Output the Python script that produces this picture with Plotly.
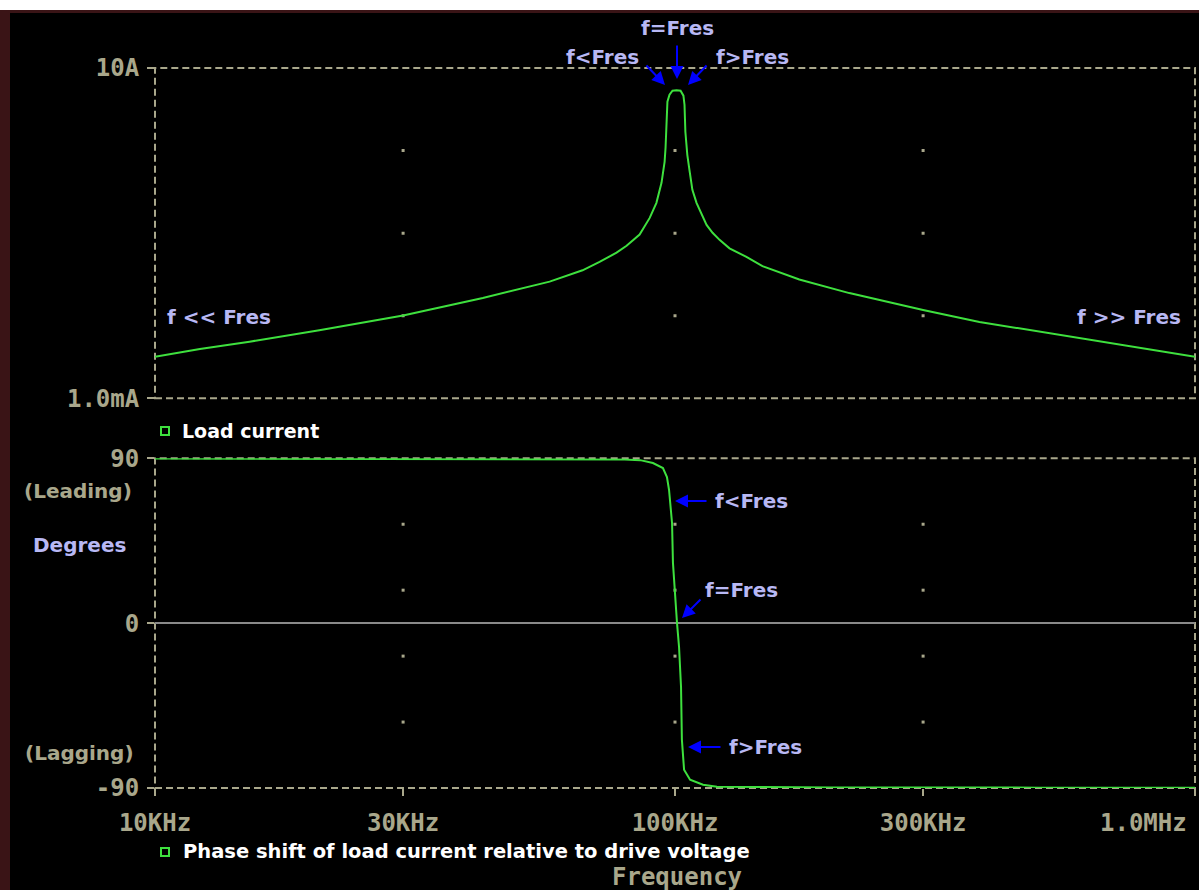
import itertools
import plotly.graph_objects as go

# ---------------- data ----------------
freq_current_khz = [10, 12.2, 15.2, 20.7, 30, 42.7, 57.4, 66.4, 71.6, 77.2,
                    80.7, 85.5, 89.4, 92.1, 94.2, 95.5, 95.9, 96.3, 96.7, 97.6,
                    98.9, 100.7, 102.5, 103.8, 104.3, 104.7, 105.6, 106.6, 108.0, 110.0,
                    112.2, 115.0, 118.1, 121.8, 127.3, 137.2, 147.3, 173.4, 216.4, 300,
                    385, 598, 1000]
current_a = [3.19e-3, 3.96e-3, 4.85e-3, 6.65e-3, 1.008e-2, 1.64e-2, 2.59e-2, 3.55e-2, 4.49e-2, 5.80e-2,
             7.03e-2, 9.6e-2, 0.153, 0.233, 0.407, 0.731, 1.08, 2.72, 3.91, 4.75,
             5.31, 5.38, 5.31, 4.62, 3.59, 1.69, 0.889, 0.585, 0.335, 0.233,
             0.176, 0.126, 0.101, 8.29e-2, 6.55e-2, 5.16e-2, 3.98e-2, 2.75e-2, 1.88e-2, 1.175e-2,
             8.41e-3, 5.38e-3, 3.19e-3]

freq_phase_khz = [10, 30, 50, 70, 80, 85.7, 90.7, 94.8, 96.5, 97.4,
                  98.7, 99.1, 100.0, 100.9, 101.8, 102.7, 103.1, 104.1, 106.9, 113.2,
                  120.4, 200, 500, 1000]
phase_deg = [89.9, 89.8, 89.7, 89.5, 89.3, 89.0, 87.4, 84.7, 79.8, 72.7,
             54.7, 32.9, 12.7, 0.0, -12.9, -34.7, -63.6, -80.0, -85.5, -88.2,
             -89.3, -89.7, -89.8, -89.9]

x_tickvals = [1e4, 3e4, 1e5, 3e5, 1e6]
x_ticktext = ["10KHz", "30KHz", "100KHz", "300KHz", "1.0MHz"]
y1_tickvals = [1e-3, 10]
y1_ticktext = ["1.0mA", "10A"]
y2_tickvals = [90, 0, -90]
y2_ticktext = ["90", "0", "-90"]
grid_x = [3e4, 1e5, 3e5]
grid_y_top = [1e-2, 1e-1, 1]
grid_y_bottom = [54, 18, -18, -54]

# ---------------- styling ----------------
W, H = 1199, 890
PL, PR, PT, PB = 155, 1195, 68, 788   # plot-area pixel bounds


def px(x):
    return (x - PL) / (PR - PL)


def py(y):
    return (PB - y) / (PB - PT)


GREEN = "#3ee03e"
TAN = "#a9a78b"
LAV = "#b8b8f4"
BLUE = "#0000ff"
MONO = "DejaVu Sans Mono"
SANS = "DejaVu Sans"
TICKFONT = dict(family=MONO, size=24, color=TAN, weight="bold")

fig = go.Figure()

# grid dots
gx1, gy1 = zip(*itertools.product(grid_x, grid_y_top))
gx2, gy2 = zip(*itertools.product(grid_x, grid_y_bottom))
fig.add_trace(go.Scatter(x=gx1, y=gy1, mode="markers", xaxis="x", yaxis="y",
                         marker=dict(size=3, color=TAN, symbol="square"), hoverinfo="skip"))
fig.add_trace(go.Scatter(x=gx2, y=gy2, mode="markers", xaxis="x2", yaxis="y2",
                         marker=dict(size=3, color=TAN, symbol="square"), hoverinfo="skip"))

fig.add_trace(go.Scatter(x=[f * 1e3 for f in freq_current_khz], y=current_a,
                         mode="lines", xaxis="x", yaxis="y", name="Load current",
                         line=dict(color=GREEN, width=2)))
fig.add_trace(go.Scatter(x=[f * 1e3 for f in freq_phase_khz], y=phase_deg,
                         mode="lines", xaxis="x2", yaxis="y2",
                         name="Phase shift of load current relative to drive voltage",
                         line=dict(color=GREEN, width=2)))

top_dom = [py(398.3), 1.0]
bot_dom = [0.0, py(458.3)]

# last x tick label is drawn right-aligned (as in the original), so blank it on the axis
ticktext_x = list(x_ticktext[:-1]) + [""]

fig.update_layout(
    width=W, height=H, autosize=False,
    margin=dict(l=PL, r=W - PR, t=PT, b=H - PB, autoexpand=False),
    paper_bgcolor="black", plot_bgcolor="black",
    showlegend=False,
    xaxis=dict(type="log", range=[4, 6], domain=[0, 1], anchor="y", automargin=False,
               showticklabels=False, showgrid=False, zeroline=False, showline=False, ticks=""),
    yaxis=dict(type="log", range=[-3, 1], domain=top_dom, anchor="x", automargin=False,
               tickvals=y1_tickvals, ticktext=y1_ticktext, tickfont=TICKFONT,
               ticks="outside", ticklen=7, tickwidth=2, tickcolor=TAN, ticklabelstandoff=3,
               showgrid=False, zeroline=False, showline=False),
    xaxis2=dict(type="log", range=[4, 6], domain=[0, 1], anchor="y2", automargin=False,
                tickvals=x_tickvals, ticktext=ticktext_x, tickfont=TICKFONT,
                ticks="outside", ticklen=7, tickwidth=2, tickcolor=TAN, ticklabelstandoff=6,
                showgrid=False, zeroline=False, showline=False),
    yaxis2=dict(range=[-90, 90], domain=bot_dom, anchor="x2", automargin=False,
                tickvals=y2_tickvals, ticktext=y2_ticktext, tickfont=TICKFONT,
                ticks="outside", ticklen=7, tickwidth=2, tickcolor=TAN, ticklabelstandoff=3,
                showgrid=False, zeroline=True, zerolinecolor="#8a8a8a", zerolinewidth=2,
                showline=False),
)

shapes = []
# dashed plot frames
for xr, yr in (("x domain", "y domain"), ("x2 domain", "y2 domain")):
    shapes.append(dict(type="rect", xref=xr, yref=yr, x0=0, x1=1, y0=0, y1=1,
                       line=dict(color=TAN, width=2, dash="7px,4px"), layer="below"))
# legend squares
for cy in (431, 852):
    shapes.append(dict(type="rect", xref="paper", yref="paper",
                       x0=px(161), x1=px(169), y0=py(cy + 4), y1=py(cy - 4),
                       line=dict(color=GREEN, width=2), fillcolor="black"))
# picture border (white strip on top, maroon edges)
shapes.append(dict(type="rect", xref="paper", yref="paper", x0=px(0), x1=px(W),
                   y0=py(0), y1=py(10), fillcolor="white", line=dict(width=0), layer="below"))
shapes.append(dict(type="rect", xref="paper", yref="paper", x0=px(0), x1=px(W),
                   y0=py(10), y1=py(13), fillcolor="#3a1416", line=dict(width=0), layer="below"))
shapes.append(dict(type="rect", xref="paper", yref="paper", x0=px(0), x1=px(10),
                   y0=py(10), y1=py(H), fillcolor="#3a1416", line=dict(width=0), layer="below"))
fig.update_layout(shapes=shapes)

ann = []


def text(t, cx, cy, color, family=SANS, size=20, bold=True):
    ann.append(dict(text=("<b>%s</b>" % t) if bold else t, xref="paper", yref="paper",
                    x=px(cx), y=py(cy), xanchor="center", yanchor="middle", showarrow=False,
                    font=dict(family=family, size=size, color=color)))


def arrow(tx, ty, hx, hy):
    ann.append(dict(text="", xref="paper", yref="paper", x=px(hx), y=py(hy),
                    ax=tx - hx, ay=ty - hy, showarrow=True, arrowhead=2, arrowsize=1.3,
                    arrowwidth=2, arrowcolor=BLUE, standoff=0, startstandoff=0))


text("f=Fres", 677, 28, LAV)
text("f&lt;Fres", 602, 57, LAV)
text("f&gt;Fres", 752, 57, LAV)
arrow(677, 44, 677, 79)
arrow(645, 64, 665, 85)
arrow(708, 64, 688, 85)
text("f &lt;&lt; Fres", 219, 317, LAV)
text("f &gt;&gt; Fres", 1129, 317, LAV)

text("f&lt;Fres", 751, 501, LAV)
arrow(708, 501, 675, 501)
text("f=Fres", 741, 590, LAV)
arrow(702, 598, 682, 618)
text("f&gt;Fres", 765, 747, LAV)
arrow(722, 747, 688, 747)

text("(Leading)", 78, 491, TAN)
text("Degrees", 79, 545, LAV)
text("(Lagging)", 79, 753, TAN)

# right-aligned last frequency tick label
ann.append(dict(text="<b>%s</b>" % x_ticktext[-1], xref="paper", yref="paper",
                x=px(1189), y=py(823), xanchor="right", yanchor="middle", showarrow=False,
                font=dict(family=MONO, size=24, color=TAN)))

ann.append(dict(text="<b>Load current</b>", xref="paper", yref="paper", x=px(180), y=py(431),
                xanchor="left", yanchor="middle", showarrow=False,
                font=dict(family=SANS, size=19, color="white")))
ann.append(dict(text="<b>Phase shift of load current relative to drive voltage</b>",
                xref="paper", yref="paper", x=px(181), y=py(852),
                xanchor="left", yanchor="middle", showarrow=False,
                font=dict(family=SANS, size=19.5, color="white")))
text("Frequency", 677, 877, TAN, family=MONO, size=24, bold=True)

fig.update_layout(annotations=ann)

fig.write_html("out.html",
               config={"displayModeBar": False, "responsive": False},
               post_script="document.body.style.margin='0';"
                           "document.body.style.background='black';"
                           "document.body.style.overflow='hidden';")
